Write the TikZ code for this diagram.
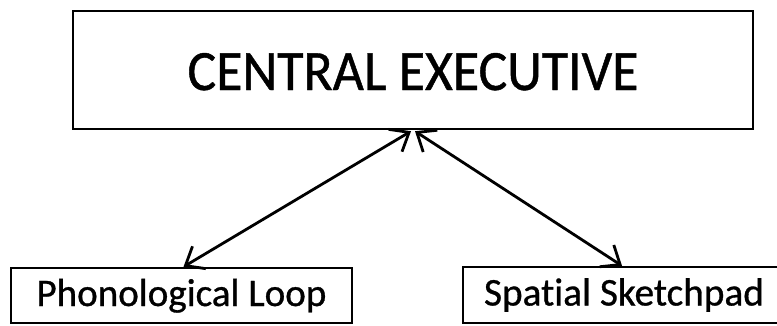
\documentclass[tikz,border=0pt]{standalone}
\usepackage{fontspec}
\setmainfont{Carlito}[Ligatures=NoCommon, FakeBold=0.8]
\usetikzlibrary{arrows.meta}
\begin{document}
\begin{tikzpicture}[x=1pt,y=-1pt,
  boxstyle/.style={draw=black, line width=2.4pt, rectangle, inner sep=0pt, align=center},
  headtip/.tip={Straight Barb[length=16pt,width=26pt,line width=2.8pt]},
  link/.style={line width=2.8pt, headtip-headtip}]
\clip (0,0) rectangle (777,325);
\fill[white] (0,0) rectangle (777,325);
\node[boxstyle, minimum width=680pt, minimum height=118pt, text height=40pt, text depth=0pt] (ce) at (413,70)
  {\resizebox{451pt}{37pt}{\fontsize{40}{40}\selectfont CENTRAL EXECUTIVE}};
\node[boxstyle, minimum width=341pt, minimum height=55pt, text height=28pt, text depth=7pt] (pl) at (181.5,295.5)
  {\resizebox{290pt}{!}{\fontsize{30}{30}\selectfont Phonological Loop}};
\node[boxstyle, minimum width=322pt, minimum height=56pt, text height=28pt, text depth=7pt] (ss) at (624,295)
  {\resizebox{280pt}{!}{\fontsize{30}{30}\selectfont Spatial Sketchpad}};
\coordinate (t1) at ([xshift=-2pt,yshift=-1pt]ce.south);
\coordinate (t2) at ([xshift=2pt,yshift=-1pt]ce.south);
\coordinate (b1) at ([xshift=2pt]pl.north);
\coordinate (b2) at ([xshift=-2pt]ss.north);
\draw[link] (t1) -- (b1);
\draw[link] (t2) -- (b2);
\end{tikzpicture}
\end{document}
